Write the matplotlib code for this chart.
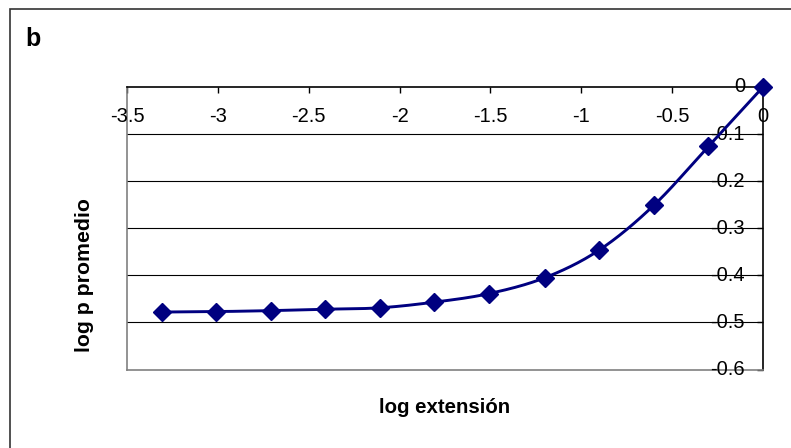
import numpy as np
import matplotlib
matplotlib.use("Agg")
import matplotlib.pyplot as plt
from matplotlib.patches import Rectangle

plt.rcParams['font.family'] = ['Liberation Sans', 'DejaVu Sans']

# data
log_extension = [-3.31, -3.01, -2.71, -2.41, -2.11, -1.81, -1.51, -1.20, -0.90, -0.60, -0.30, 0.0]
log_p_mean = [-0.478, -0.477, -0.475, -0.472, -0.469, -0.457, -0.439, -0.405, -0.346, -0.251, -0.126, 0.0]
x_ticks = [-3.5, -3.0, -2.5, -2.0, -1.5, -1.0, -0.5, 0.0]
x_tick_labels = ["-3.5", "-3", "-2.5", "-2", "-1.5", "-1", "-0.5", "0"]
y_ticks = [0.0, -0.1, -0.2, -0.3, -0.4, -0.5, -0.6]
y_tick_labels = ["0", "-0.1", "-0.2", "-0.3", "-0.4", "-0.5", "-0.6"]
panel_label = "b"
x_title = "log extensión"
y_title = "log p promedio"


def smooth_curve(xs, ys, n=30):
    """Catmull-Rom style smoothing through the given points."""
    xs = np.asarray(xs, float)
    ys = np.asarray(ys, float)
    px = np.concatenate([[2 * xs[0] - xs[1]], xs, [2 * xs[-1] - xs[-2]]])
    py = np.concatenate([[2 * ys[0] - ys[1]], ys, [2 * ys[-1] - ys[-2]]])
    out_x, out_y = [], []
    t = np.linspace(0, 1, n, endpoint=False)
    for i in range(1, len(px) - 2):
        p0, p1, p2, p3 = (np.array([px[j], py[j]]) for j in (i - 1, i, i + 1, i + 2))
        c1 = p1 + (p2 - p0) / 6.0
        c2 = p2 - (p3 - p1) / 6.0
        b = ((1 - t) ** 3)[:, None] * p1 + (3 * (1 - t) ** 2 * t)[:, None] * c1 \
            + (3 * (1 - t) * t ** 2)[:, None] * c2 + (t ** 3)[:, None] * p2
        out_x.extend(b[:, 0])
        out_y.extend(b[:, 1])
    out_x.append(xs[-1])
    out_y.append(ys[-1])
    return np.array(out_x), np.array(out_y)


W, H = 791, 448
fig = plt.figure(figsize=(W / 100, H / 100), dpi=100)
fig.patch.set_facecolor("white")

# chart frame
fig.patches.append(Rectangle((10 / W, -0.1), 1.2, 1 - 9 / H + 0.1,
                             transform=fig.transFigure, fill=False,
                             edgecolor="#333333", linewidth=1.2))

left, right, top, bottom = 127, 763, 87, 369.5
ax = fig.add_axes([left / W, 1 - bottom / H, (right - left) / W, (bottom - top) / H])
ax.set_xlim(-3.5, 0)
ax.set_ylim(-0.6, 0)

# horizontal gridlines
for v in y_ticks[1:-1]:
    ax.axhline(v, color="black", linewidth=0.8, zorder=1)

ax.spines['top'].set_color("black")
ax.spines['right'].set_color("black")
ax.spines['left'].set_color("#808080")
ax.spines['bottom'].set_color("#808080")
for s in ax.spines.values():
    s.set_linewidth(1.2)

ax.set_xticks(x_ticks)
ax.set_yticks(y_ticks)
ax.xaxis.set_ticks_position('top')
ax.yaxis.set_ticks_position('right')
ax.tick_params(axis='both', direction='in', length=4.5, width=1.0, color="black",
               labeltop=False, labelbottom=False, labelleft=False, labelright=False)

for v, lab in zip(x_ticks, x_tick_labels):
    ax.annotate(lab, xy=(v, 0), xytext=(0, -21.5), textcoords='offset points',
                ha='center', va='center', fontsize=14.5, annotation_clip=False)
for v, lab in zip(y_ticks, y_tick_labels):
    ax.annotate(lab, xy=(0, v), xytext=(-13, 0), textcoords='offset points',
                ha='right', va='center', fontsize=14.5, annotation_clip=False)

sx, sy = smooth_curve(log_extension, log_p_mean)
ax.plot(sx, sy, color="#000080", linewidth=2.1, zorder=3, clip_on=False)
ax.plot(log_extension, log_p_mean, linestyle='none', marker='D', markersize=9.5,
        color="#000080", zorder=4, clip_on=False)

fig.text(445 / W, 1 - 407 / H, x_title, ha='center', va='center',
         fontsize=14.7, fontweight='bold')
fig.text(84 / W, 1 - 275 / H, y_title, ha='center', va='center', rotation=90,
         fontsize=15.3, fontweight='bold')
fig.text(33 / W, 1 - 38.5 / H, panel_label, ha='center', va='center',
         fontsize=18, fontweight='bold')

fig.savefig("out.png", dpi=100)
